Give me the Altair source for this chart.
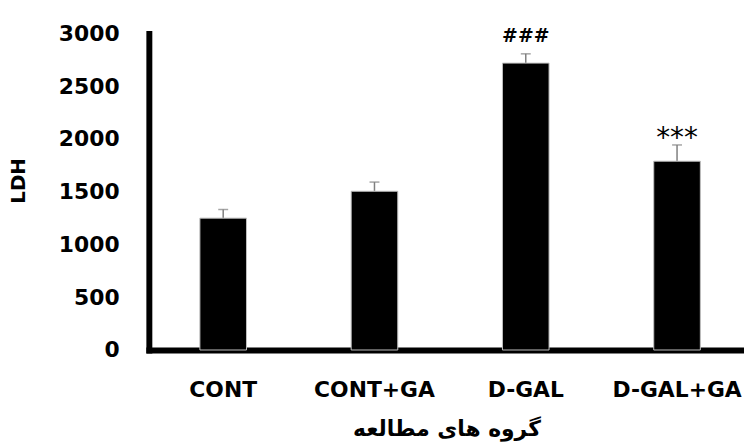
import altair as alt
import pandas as pd

groups = ["CONT", "CONT+GA", "D-GAL", "D-GAL+GA"]
ldh_mean = [1250, 1505, 2720, 1790]
ldh_err = [82, 87, 88, 154]
marks = ["", "", "###", "***"]

df = pd.DataFrame({
    "group": groups,
    "mean": ldh_mean,
    "err": ldh_err,
    "mark": marks,
})
df["top"] = df["mean"] + df["err"]

FONT = "DejaVu Sans"

x_enc = alt.X(
    "group:N",
    sort=groups,
    scale=alt.Scale(paddingInner=0.692, paddingOuter=0.313, align=0.539),
    axis=alt.Axis(
        title="گروه های مطالعه",
        labelAngle=0,
        labelAlign="center",
        labelFont=FONT,
        labelFontSize=22,
        labelFontWeight="bold",
        labelColor="black",
        labelPadding=40,
        ticks=False,
        domainColor="black",
        domainWidth=6,
        domainCap="square",
        titleFont=FONT,
        titleFontSize=22,
        titleFontWeight="bold",
        titleColor="black",
        titleX=300,
        titleY=86,
        titleBaseline="alphabetic",
        titleAlign="center",
    ),
)

y_scale = alt.Scale(domain=[0, 3000], nice=False, zero=True)

bars = alt.Chart(df).mark_bar(color="black", stroke="#bfbfbf", strokeWidth=1).encode(
    x=x_enc,
    y=alt.Y(
        "mean:Q",
        scale=y_scale,
        axis=alt.Axis(
            title="LDH",
            values=[0, 500, 1000, 1500, 2000, 2500, 3000],
            format="d",
            grid=False,
            ticks=False,
            labelFont=FONT,
            labelFontSize=22,
            labelFontWeight="bold",
            labelColor="black",
            labelPadding=30,
            domainColor="black",
            domainWidth=6,
            domainCap="square",
            titleFont=FONT,
            titleFontSize=20,
            titleFontWeight="bold",
            titleColor="black",
            titleAngle=-90,
            titleX=-131,
            titleY=148,
            titleAlign="center",
            titleBaseline="middle",
        ),
    ),
)

rule = alt.Chart(df).mark_rule(color="#7f7f7f", strokeWidth=1.5).encode(
    x=alt.X("group:N", sort=groups),
    y=alt.Y("mean:Q", scale=y_scale),
    y2="top:Q",
)

cap = alt.Chart(df).mark_tick(color="#7f7f7f", thickness=1.5, size=10, orient="horizontal").encode(
    x=alt.X("group:N", sort=groups),
    y=alt.Y("top:Q", scale=y_scale),
)

hash_text = alt.Chart(df).transform_filter(alt.datum.mark == "###").mark_text(
    font=FONT, fontSize=19, fontWeight="bold", color="black", baseline="alphabetic", dy=-12
).encode(
    x=alt.X("group:N", sort=groups),
    y=alt.Y("top:Q", scale=y_scale),
    text="mark:N",
)

star_text = alt.Chart(df).transform_filter(alt.datum.mark == "***").mark_text(
    font=FONT, fontSize=28, fontWeight="normal", color="black", baseline="alphabetic", dy=2
).encode(
    x=alt.X("group:N", sort=groups),
    y=alt.Y("top:Q", scale=y_scale),
    text="mark:N",
)

chart = alt.layer(rule, cap, bars, hash_text, star_text).properties(
    width=600,
    height=319,
    autosize=alt.AutoSizeParams(type="none"),
    padding={"left": 142, "top": 24, "right": 0, "bottom": 95},
).configure_view(stroke=None)

chart = chart.properties(background="white")
chart.save("out.html", embed_options={"renderer": "svg", "actions": False})
